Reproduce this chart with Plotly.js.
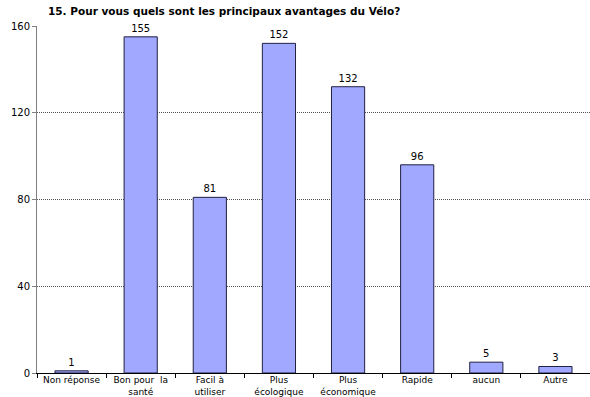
<!DOCTYPE html>
<html>
<head>
<meta charset="utf-8">
<script src="https://cdn.plot.ly/plotly-3.0.1.min.js"></script>
<style>
  html, body { margin: 0; padding: 0; background: #ffffff; }
  #chart { width: 590px; height: 397px; }
</style>
</head>
<body>
<div id="chart"></div>
<script>
// Survey question 15: main advantages of cycling
const categories = [
  "Non réponse",
  "Bon pour  la<br>santé",
  "Facil à<br>utiliser",
  "Plus<br>écologique",
  "Plus<br>économique",
  "Rapide",
  "aucun",
  "Autre"
];
const counts = [1, 155, 81, 152, 132, 96, 5, 3];
const yTicks = [0, 40, 80, 120, 160];

const trace = {
  type: "bar",
  x: categories,
  y: counts,
  text: counts.map(String),
  textposition: "outside",
  cliponaxis: false,
  textfont: { family: "DejaVu Sans, sans-serif", size: 10, color: "#000000" },
  marker: {
    color: "#A0A8FF",
    line: { color: "#202040", width: 1 }
  },
  hoverinfo: "none"
};

const layout = {
  width: 590,
  height: 397,
  margin: { l: 37, r: 0, t: 26, b: 24 },
  paper_bgcolor: "#ffffff",
  plot_bgcolor: "#ffffff",
  bargap: 0.52,
  showlegend: false,
  title: {
    text: "<b>15. Pour vous quels sont les principaux avantages du Vélo?</b>",
    font: { family: "DejaVu Sans, sans-serif", size: 10.5, color: "#000000" },
    x: 0, xref: "paper", xanchor: "left",
    y: 1, yref: "container", yanchor: "top",
    pad: { t: 8, l: 11 }
  },
  xaxis: {
    type: "category",
    tickson: "boundaries",
    ticks: "outside",
    ticklen: 4,
    tickcolor: "#000000",
    showgrid: false,
    showline: true,
    linecolor: "#000000",
    linewidth: 1,
    ticklabelstandoff: -2,
    tickfont: { family: "DejaVu Sans, sans-serif", size: 9, color: "#000000" },
    tickangle: 0,
    automargin: false
  },
  yaxis: {
    range: [0, 160],
    tickvals: yTicks,
    ticktext: yTicks.map(String),
    ticks: "outside",
    ticklen: 4,
    tickcolor: "#808080",
    showline: true,
    linecolor: "#808080",
    linewidth: 1,
    showgrid: true,
    gridcolor: "#555555",
    griddash: "1px,1px",
    gridwidth: 1,
    zeroline: false,
    tickfont: { family: "DejaVu Sans, sans-serif", size: 10, color: "#000000" },
    automargin: false
  }
};

Plotly.newPlot("chart", [trace], layout, { staticPlot: true, displayModeBar: false });
</script>
</body>
</html>
